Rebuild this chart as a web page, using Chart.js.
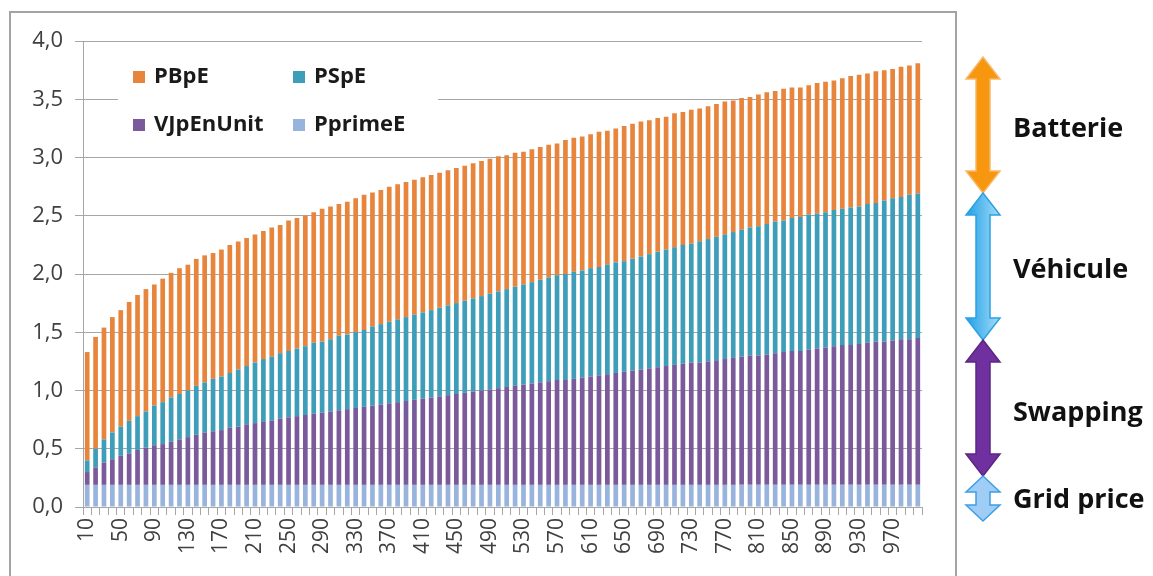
<!DOCTYPE html>
<html>
<head>
<meta charset="utf-8">
<script src="https://cdn.jsdelivr.net/npm/chart.js@4"></script>
<style>
  html, body { margin: 0; padding: 0; background: #fff; }
  body { width: 1153px; height: 576px; position: relative; overflow: hidden; font-family: "Open Sans", sans-serif; }
  #frame { position: absolute; left: 9px; top: 11px; width: 948px; height: 600px; border: 2px solid #a3a3a3; box-sizing: border-box; }
  #wrap { position: absolute; left: 0; top: 0; width: 960px; height: 576px; }
  #notes { position: absolute; left: 0; top: 0; }
  .tag { position: absolute; left: 1013px; font: bold 27px "Open Sans", sans-serif; color: #111; line-height: 1; transform: translateY(-50%); white-space: nowrap; }
</style>
</head>
<body>
<div id="frame"></div>
<div id="wrap"><canvas id="chart" width="960" height="576"></canvas></div>

<svg id="notes" width="1153" height="576">
  <defs>
    <linearGradient id="vehGrad" x1="0" x2="1" y1="0" y2="0">
      <stop offset="0" stop-color="#1fa0e6"/>
      <stop offset="1" stop-color="#a6dcf8"/>
    </linearGradient>
  </defs>
  <polygon points="983,57 1000,79 990,79 990,171 1000,171 983,193 966,171 976,171 976,79 966,79" fill="#f7960f" stroke="#f9b868" stroke-width="1.5"/>
  <polygon points="983,193 1000,215 990,215 990,318 1000,318 983,340 966,318 976,318 976,215 966,215" fill="url(#vehGrad)" stroke="#2aa2e2" stroke-width="1.5"/>
  <polygon points="983,340 1000,362 990,362 990,454 1000,454 983,476 966,454 976,454 976,362 966,362" fill="#7030a0" stroke="#5a2684" stroke-width="1.5"/>
  <polygon points="983,476 1000,492 990,492 990,505 1000,505 983,521 966,505 976,505 976,492 966,492" fill="#9fcdf5" stroke="#3d9fe4" stroke-width="1.5"/>
</svg>
<div class="tag" style="top:126px">Batterie</div>
<div class="tag" style="top:267px">Véhicule</div>
<div class="tag" style="top:410px">Swapping</div>
<div class="tag" style="top:497px">Grid price</div>

<script>
// ── Data ──

var categories = [10,20,30,40,50,60,70,80,90,100,110,120,130,140,150,160,170,180,190,200,
  210,220,230,240,250,260,270,280,290,300,310,320,330,340,350,360,370,380,390,400,
  410,420,430,440,450,460,470,480,490,500,510,520,530,540,550,560,570,580,590,600,
  610,620,630,640,650,660,670,680,690,700,710,720,730,740,750,760,770,780,790,800,
  810,820,830,840,850,860,870,880,890,900,910,920,930,940,950,960,970,980,990,1000];

var pprimeE = [0.19,0.19,0.19,0.19,0.19,0.19,0.19,0.19,0.19,0.19,0.19,0.19,0.19,0.19,0.19,0.19,0.19,0.19,0.19,0.19,
  0.19,0.19,0.19,0.19,0.19,0.19,0.19,0.19,0.19,0.19,0.19,0.19,0.19,0.19,0.19,0.19,0.19,0.19,0.19,0.19,
  0.19,0.19,0.19,0.19,0.19,0.19,0.19,0.19,0.19,0.19,0.19,0.19,0.19,0.19,0.19,0.19,0.19,0.19,0.19,0.19,
  0.19,0.19,0.19,0.19,0.19,0.19,0.19,0.19,0.19,0.19,0.19,0.19,0.19,0.19,0.19,0.19,0.19,0.19,0.19,0.19,
  0.19,0.19,0.19,0.19,0.19,0.19,0.19,0.19,0.19,0.19,0.19,0.19,0.19,0.19,0.19,0.19,0.19,0.19,0.19,0.19];

var vjpEnUnit = [0.11,0.15,0.19,0.22,0.25,0.27,0.30,0.32,0.34,0.35,0.37,0.39,0.41,0.43,0.45,0.46,0.47,0.49,0.50,0.52,
  0.53,0.54,0.55,0.57,0.58,0.59,0.60,0.61,0.62,0.63,0.64,0.65,0.66,0.67,0.68,0.69,0.70,0.71,0.72,0.73,
  0.74,0.75,0.76,0.77,0.78,0.79,0.80,0.81,0.82,0.83,0.84,0.85,0.86,0.87,0.88,0.89,0.90,0.90,0.91,0.92,
  0.93,0.94,0.95,0.96,0.97,0.98,0.99,1.00,1.01,1.02,1.03,1.04,1.05,1.05,1.06,1.07,1.08,1.09,1.10,1.11,
  1.11,1.12,1.13,1.14,1.15,1.15,1.16,1.17,1.18,1.19,1.20,1.20,1.21,1.22,1.23,1.23,1.24,1.25,1.25,1.26];

var pSpE = [0.10,0.16,0.20,0.23,0.25,0.28,0.29,0.31,0.34,0.36,0.38,0.39,0.40,0.42,0.43,0.45,0.46,0.47,0.49,0.50,
  0.52,0.54,0.55,0.56,0.57,0.58,0.59,0.61,0.61,0.62,0.64,0.64,0.65,0.66,0.68,0.69,0.70,0.71,0.72,0.73,
  0.74,0.75,0.76,0.77,0.78,0.79,0.80,0.81,0.82,0.83,0.84,0.85,0.86,0.87,0.88,0.89,0.90,0.91,0.92,0.92,
  0.93,0.93,0.94,0.95,0.95,0.96,0.97,0.98,0.99,1.00,1.01,1.02,1.02,1.04,1.05,1.06,1.07,1.08,1.09,1.10,
  1.11,1.12,1.13,1.13,1.14,1.15,1.16,1.16,1.16,1.17,1.17,1.18,1.18,1.19,1.19,1.21,1.22,1.22,1.24,1.24];

var pBpE = [0.93,0.96,0.96,0.99,1.00,1.02,1.04,1.05,1.04,1.06,1.07,1.08,1.08,1.09,1.09,1.08,1.09,1.10,1.10,1.10,
  1.10,1.10,1.11,1.10,1.12,1.12,1.12,1.12,1.14,1.14,1.13,1.14,1.15,1.16,1.15,1.15,1.16,1.16,1.16,1.16,
  1.16,1.16,1.16,1.16,1.16,1.16,1.16,1.16,1.16,1.16,1.15,1.15,1.14,1.14,1.14,1.14,1.13,1.15,1.15,1.15,
  1.15,1.16,1.15,1.15,1.16,1.16,1.16,1.15,1.15,1.14,1.15,1.14,1.15,1.14,1.14,1.14,1.14,1.13,1.13,1.12,
  1.13,1.13,1.12,1.13,1.12,1.11,1.11,1.12,1.12,1.11,1.12,1.13,1.13,1.12,1.13,1.12,1.11,1.12,1.11,1.12];

var seriesNames = ['PprimeE', 'VJpEnUnit', 'PSpE', 'PBpE'];
var seriesColors = ['#98b4dc', '#7a5a9b', '#3e9db8', '#e8853d'];

// ── Legend drawn inside the plot, on a white box (Excel style) ──

var boxLegend = {
  id: 'boxLegend',
  afterDraw: function(chart) {
    var ctx = chart.ctx;
    ctx.save();
    ctx.fillStyle = '#fff';
    ctx.fillRect(118, 52, 320, 96);
    var items = [
      { i: 3, x: 133, y: 77 },
      { i: 2, x: 293, y: 77 },
      { i: 1, x: 133, y: 125 },
      { i: 0, x: 293, y: 125 }
    ];
    ctx.font = 'bold 22px "Open Sans", sans-serif';
    ctx.textBaseline = 'middle';
    items.forEach(function(it) {
      ctx.fillStyle = seriesColors[it.i];
      ctx.fillRect(it.x, it.y - 6, 12, 12);
      ctx.fillStyle = '#1a1a1a';
      ctx.fillText(seriesNames[it.i], it.x + 21, it.y);
    });
    ctx.restore();
  }
};

var values = [pprimeE, vjpEnUnit, pSpE, pBpE];

new Chart(document.getElementById('chart'), {
  type: 'bar',
  data: {
    labels: categories,
    datasets: values.map(function(v, k) {
      return {
        label: seriesNames[k],
        data: v,
        backgroundColor: seriesColors[k],
        borderWidth: 0,
        barPercentage: 0.56,
        categoryPercentage: 1
      };
    })
  },
  options: {
    responsive: false,
    animation: false,
    layout: { padding: { left: 0, right: 38, top: 41, bottom: 0 } },
    plugins: { legend: { display: false }, tooltip: { enabled: false } },
    scales: {
      x: {
        stacked: true,
        offset: true,
        grid: { drawOnChartArea: false, offset: true, color: '#a6a6a6', tickLength: 8 },
        border: { color: '#a6a6a6' },
        ticks: {
          autoSkip: false,
          maxRotation: 90,
          minRotation: 90,
          padding: 3,
          color: '#404040',
          font: { family: '"Open Sans", sans-serif', size: 21 },
          callback: function(v, i) { return i % 4 === 0 ? String(categories[i]) : ''; }
        },
        afterFit: function(s) { s.height = 69; }
      },
      y: {
        stacked: true,
        min: 0,
        max: 4,
        grid: { color: '#a6a6a6', tickLength: 8 },
        border: { color: '#a6a6a6' },
        ticks: {
          stepSize: 0.5,
          padding: 12,
          color: '#404040',
          font: { family: '"Open Sans", sans-serif', size: 22 },
          callback: function(v) { return v.toFixed(1).replace('.', ','); }
        },
        afterFit: function(s) { s.width = 83; }
      }
    }
  },
  plugins: [boxLegend]
});
</script>
</body>
</html>
